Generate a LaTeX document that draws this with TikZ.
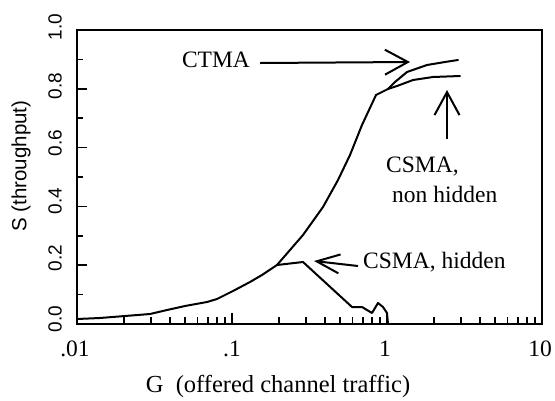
\documentclass[tikz,border=0pt]{standalone}
\usepackage{fontspec}
\setmainfont{Liberation Serif}
\newfontfamily\axsans{Liberation Sans}
\usetikzlibrary{arrows.meta,calc}
\begin{document}
\begin{tikzpicture}[x=1pt,y=-1pt,
  frame/.style={line width=2pt},
  tick/.style={line width=1.7pt},
  curve/.style={line width=2pt, line join=round, line cap=round},
  lbl/.style={font=\fontsize{23.5}{26}\selectfont, inner sep=0pt},
  ylbl/.style={font=\axsans\fontsize{19}{22}\selectfont, rotate=90, inner sep=0pt},
  ptr/.style={line width=2pt, -{Straight Barb[length=23pt,width=25pt,line width=2pt]}},
  ]
\useasboundingbox (0,0) rectangle (555,400);
% frame
\draw[frame] (77,30) -- (542,30) -- (542,324) -- (77,324) -- cycle;
% y ticks
\foreach \s in {0.1,0.3,0.5,0.7,0.9} \draw[tick] (77,{324-294*\s}) -- ++(6,0);
\foreach \s in {0.2,0.4,0.6,0.8} \draw[tick] (77,{324-294*\s}) -- ++(10,0);
% x ticks
\foreach \d in {0,1,2} {
  \foreach \m in {2,...,9} \draw[tick] ({77+155*\d+155*log10(\m)},324) -- ++(0,-7);
}
\foreach \d in {1,2} \draw[tick] ({77+155*\d},324) -- ++(0,-11);
% y tick labels
\node[ylbl] (y0) at (55,319) {0.0};
\node[ylbl] (y2) at (55,258) {0.2};
\node[ylbl] (y4) at (55,201) {0.4};
\node[ylbl] (y6) at (55,143) {0.6};
\node[ylbl] (y8) at (55,86) {0.8};
\node[ylbl] (y10) at (55,27) {1.0};
\node[ylbl, font=\axsans\fontsize{20.5}{22}\selectfont] (ytitle) at (21,166) {S (throughput)};
% x tick labels
\node[lbl] (x1) at (75,349) {.01};
\node[lbl] (x2) at (232,349) {.1};
\node[lbl] (x3) at (385,349) {1};
\node[lbl] (x4) at (540,349) {10};
\node[lbl, font=\fontsize{24.5}{27}\selectfont] (xtitle) at (278,386) {G\ \ (offered channel traffic)};
% curves
\draw[curve] (77,319) -- (100,318) -- (125,316) -- (150,314) -- (167,310) -- (185,306)
  -- (207,302) -- (217,299) -- (233,291) -- (250,282) -- (262,275) -- (277,265);
\draw[curve] (277,265) -- (290,250) -- (303,235) -- (323,207) -- (338,180) -- (350,155)
  -- (362,125) -- (376,95) -- (388,89);
\draw[curve] (388,89) -- (395,82) -- (407,72) -- (427,65) -- (445,62) -- (458,60);
\draw[curve] (388,89) -- (397,86) -- (413,80) -- (433,77) -- (460,76);
\draw[curve] (277,265) -- (303,262) -- (352,307) -- (362,307) -- (372,313) -- (378,303)
  -- (383,307) -- (387,313) -- (388,324);
% annotations
\node[lbl] (ctma) at (216,60) {CTMA};
\coordinate (ctmaTip) at (410,62);
\draw[ptr] ([xshift=10pt,yshift=-3pt]ctma.east) -- (ctmaTip);
\node[lbl, anchor=base west] (nh1) at (386,172) {CSMA,};
\node[lbl, anchor=base west] (nh2) at (392,202) {non hidden};
\coordinate (nhTip) at (447,90);
\draw[ptr] ($(nhTip |- nh1.north)+(0,-17)$) -- (nhTip);
\node[lbl, anchor=west] (hid) at (363,262) {CSMA, hidden};
\coordinate (hidTip) at (314,261);
\draw[ptr, -{Straight Barb[length=23pt,width=19pt,line width=2pt]}] ([xshift=-5pt,yshift=-4pt]hid.west) -- (hidTip);
\end{tikzpicture}
\end{document}
